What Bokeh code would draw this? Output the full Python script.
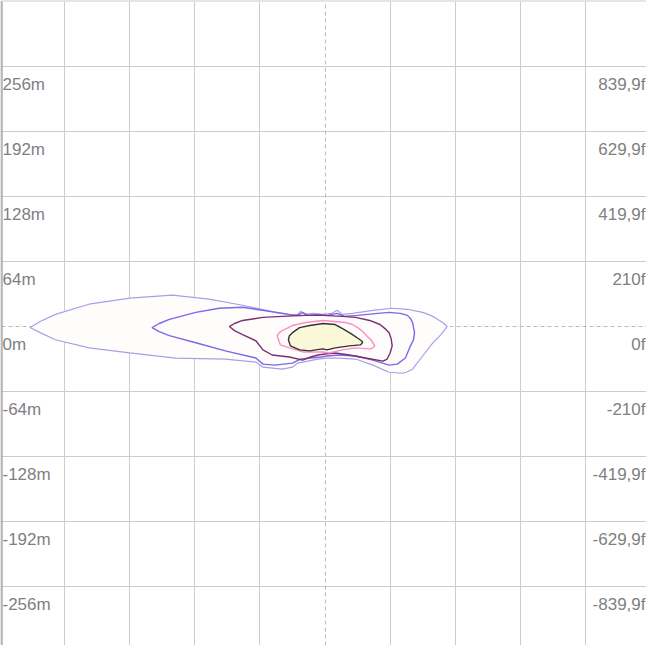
from bokeh.plotting import figure
from bokeh.models import FixedTicker, Grid, Span, Range1d
from bokeh.embed import file_html
from bokeh.resources import INLINE
from bokeh.core.properties import value

# grid ticks (metres)
ticks_m = [-256, -192, -128, -64, 64, 128, 192, 256]
label_ticks = [256, 192, 128, 64, 0, -64, -128, -192, -256]
left_labels = ["256m", "192m", "128m", "64m", "0m", "-64m", "-128m", "-192m", "-256m"]
right_labels = ["839,9f", "629,9f", "419,9f", "210f", "0f", "-210f", "-419,9f", "-629,9f", "-839,9f"]

# contour outlines (metres), outermost first
outer_x = [-290, -280, -265, -232, -192, -150, -114, -81, -49, -32, -27, -24, -20, -12, -2, 7, 12, 17, 27, 47, 66, 81, 96, 104, 111, 117, 120,
           117, 114, 106, 96, 86, 80, 76, 63, 47, 30, 14, 2, -7, -17, -27, -32, -42, -61, -68, -98, -147, -192, -232, -265, -280]
outer_y = [-1, 5, 12, 22, 28, 31, 27, 21, 14, 11, 12, 15, 12, 13, 12, 13, 16, 12, 13, 16, 18, 17, 14, 11, 7, 3, 0,
           -4, -8, -16, -29, -42, -45, -46, -45, -38, -32, -31, -31, -32, -34, -36, -40, -42, -40, -35, -32, -31, -26, -21, -13, -6]

second_x = [-170, -163, -153, -127, -104, -81, -55, -35, -27, -22, -17, -7, 2, 12, 19, 32, 52, 63, 74, 81, 84, 86, 88, 87, 84, 79, 71,
            63, 47, 30, 14, 2, -4, -14, -24, -32, -49, -61, -68, -98, -127, -153, -163]
second_y = [-1, 3, 7, 14, 18, 19, 15, 12, 11, 14, 11, 12, 11, 13, 10, 11, 13, 14, 13, 11, 8, 4, -6, -13, -19, -31, -37,
            -38, -33, -29, -28, -29, -30, -31, -32, -36, -38, -37, -31, -24, -16, -9, -5]

third_x = [-94, -89, -81, -61, -42, -19, -2, 17, 30, 44, 54, 59, 63, 65, 66, 64, 61, 57, 40, 24, 10, 0, -7, -14, -22, -35, -52, -61, -68, -81, -89]
third_y = [0, 3, 6, 9, 10, 11, 11, 10, 9, 6, 2, -2, -6, -12, -19, -26, -32, -34, -31, -28, -26, -27, -28, -30, -33, -30, -28, -23, -14, -8, -4]

pink_x = [-47, -45, -42, -32, -19, -2, 20, 27, 32, 36, 40, 45, 49, 47, 44, 30, 17, 4, -2, -12, -22, -35, -44]
pink_y = [-9, -6, -4, 1, 4, 6, 4, 2, -1, -4, -8, -13, -19, -21, -22, -21, -23, -26, -25, -25, -25, -21, -18]

core_x = [-36, -35, -32, -25, -15, -2, 10, 19, 27, 33, 37, 36, 35, 24, 10, 2, -2, -9, -15, -25, -34]
core_y = [-13, -9, -6, -1, 1, 3, 2, -3, -8, -12, -15, -17, -18, -19, -21, -23, -22, -23, -24, -23, -19]

p = figure(width=646, height=645, output_backend="svg", toolbar_location=None,
           x_range=Range1d(-318, 316), y_range=Range1d(-314, 320),
           min_border=0, min_border_left=1, min_border_right=0, min_border_top=1, min_border_bottom=0)
p.outline_line_color = None
p.border_fill_color = "#999999"
p.xaxis.visible = False
p.yaxis.visible = False
p.background_fill_color = "white"

p.xgrid.ticker = FixedTicker(ticks=ticks_m)
p.ygrid.ticker = FixedTicker(ticks=ticks_m)
for g in (p.xgrid, p.ygrid):
    g.grid_line_color = "#cccccc"
    g.grid_line_width = 1

for dim in (0, 1):
    cg = Grid(dimension=dim, ticker=FixedTicker(ticks=[0]), grid_line_color="#bbbbbb",
              grid_line_dash="4 3", grid_line_width=1)
    p.add_layout(cg)

# frame left border thickness
p.add_layout(Span(location=-318, dimension="height", line_color="#888888", line_width=2))

# contours
p.patch(outer_x, outer_y, fill_color="#fffdfb", line_color="#a99fe6", line_width=1.2)
p.patch(second_x, second_y, fill_color=None, line_color="#7a68e8", line_width=1.4)
p.patch(third_x, third_y, fill_color=None, line_color="#7b2e70", line_width=1.4)
p.patch(pink_x, pink_y, fill_color=None, line_color="#ff8cc2", line_width=1.4)
p.patch(core_x, core_y, fill_color="#fbf7d9", line_color="#333333", line_width=1.4)

# labels
p.text(x=[-318] * len(label_ticks), y=label_ticks, text=left_labels, x_offset=1, y_offset=18,
       text_font=value("Liberation Sans"), text_font_size="17px", text_color="#7f7f7f",
       text_align="left", text_baseline="alphabetic")
p.text(x=[316] * len(label_ticks), y=label_ticks, text=right_labels, x_offset=-1, y_offset=18,
       text_font=value("Liberation Sans"), text_font_size="17px", text_color="#7f7f7f",
       text_align="right", text_baseline="alphabetic")

open("out.html", "w").write(file_html(p, INLINE))
